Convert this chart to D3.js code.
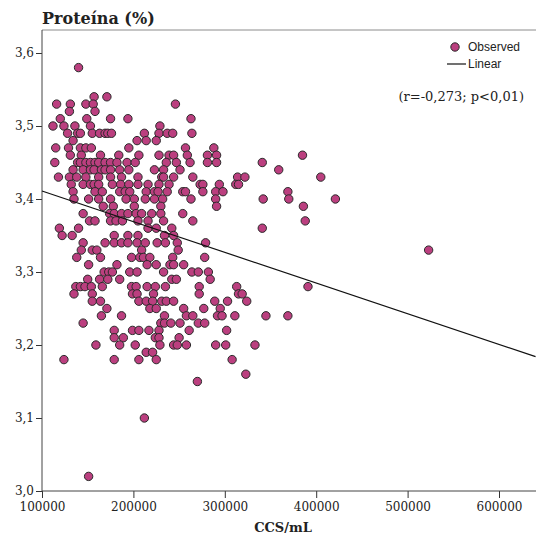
<!DOCTYPE html>
<html>
<head>
<meta charset="utf-8">
<script src="https://cdn.jsdelivr.net/npm/d3@7"></script>
<style>
  body { margin: 0; background: #fff; }
  svg text { fill: #222; }
</style>
</head>
<body>
<svg id="chart" width="536" height="540"></svg>
<script>
// protein level (%) for each row of points, and CCS/mL (in thousands) of the points in that row
const proteinLevels = [
  3.58, 3.54, 3.53, 3.52, 3.51, 3.50, 3.49, 3.48, 3.47, 3.46, 3.45, 3.44, 3.43, 3.42,
  3.41, 3.40, 3.39, 3.38, 3.37, 3.36, 3.35, 3.34, 3.33, 3.32, 3.31, 3.30, 3.29, 3.28,
  3.27, 3.26, 3.25, 3.24, 3.23, 3.22, 3.21, 3.20, 3.19, 3.18, 3.16, 3.15, 3.10, 3.02
];
const ccsThousands = [
  [140],
  [157, 171],
  [116, 131, 148, 156, 246],
  [130, 158],
  [120, 149, 175, 194, 263],
  [112, 124, 136, 153, 229],
  [128, 139, 142, 155, 163, 169, 172, 176, 212, 228, 237, 243, 264],
  [134, 204, 214, 225],
  [115, 129, 142, 148, 154, 195, 257, 288],
  [131, 143, 164, 184, 206, 228, 239, 244, 259, 281, 291, 385],
  [114, 139, 142, 148, 153, 158, 162, 169, 175, 182, 193, 202, 236, 247, 262, 281, 291, 341],
  [134, 145, 153, 157, 165, 169, 175, 185, 195, 223, 233, 251, 359],
  [118, 130, 138, 148, 162, 175, 187, 205, 231, 233, 244, 265, 314, 322, 405],
  [132, 145, 153, 157, 162, 177, 186, 195, 205, 216, 228, 239, 273, 276, 294, 312, 315],
  [134, 158, 166, 185, 191, 196, 214, 223, 227, 237, 254, 257, 276, 290, 298, 369],
  [135, 151, 162, 175, 192, 201, 213, 223, 232, 263, 290, 342, 370, 421],
  [167, 178, 201, 230, 291, 386],
  [145, 174, 179, 187, 194, 203, 209, 220, 230, 254],
  [152, 158, 175, 181, 188, 205, 216, 233, 265, 388],
  [119, 140, 216, 225, 242, 341],
  [122, 133, 179, 194, 205, 234, 244],
  [145, 169, 179, 187, 194, 204, 213, 226, 235, 248, 279],
  [143, 155, 160, 209, 249, 523],
  [138, 164, 198, 207, 211, 218, 243, 278],
  [151, 182, 215, 225, 240, 244, 255],
  [168, 173, 177, 196, 204, 233, 264, 271, 282],
  [150, 163, 172, 185, 242, 247, 284],
  [137, 142, 147, 154, 166, 198, 203, 215, 224, 235, 272, 313, 391],
  [135, 155, 199, 204, 222, 272, 315, 319],
  [155, 164, 206, 214, 221, 231, 236, 244, 289, 303, 324],
  [171, 218, 225, 255, 277, 295],
  [165, 187, 234, 258, 265, 292, 297, 311, 345, 369],
  [145, 230, 234, 241, 251, 271, 278],
  [179, 199, 206, 217, 228, 261, 302],
  [179, 189, 224, 228, 250],
  [159, 185, 202, 229, 244, 248, 258, 290, 301, 333],
  [214, 221],
  [124, 179, 206, 225, 308],
  [323],
  [270],
  [212],
  [151]
];

// linear fit, evaluated at both ends of the x range
const fitLine = [[100000, 3.411], [640000, 3.184]];

const xTicks = [100000, 200000, 300000, 400000, 500000, 600000];
const yTicks = [3.0, 3.1, 3.2, 3.3, 3.4, 3.5, 3.6];

const points = [];
proteinLevels.forEach((p, i) => {
  ccsThousands[i].forEach(c => points.push({ ccs: c * 1000, protein: p }));
});

const svg = d3.select('#chart');

const x = d3.scaleLinear().domain([100000, 600000]).range([42, 499]);
const y = d3.scaleLinear().domain([3.0, 3.6]).range([491, 53]);

const plotTop = 30, plotLeft = 42, plotBottom = 491, plotRight = 536;

// frame top border
svg.append('line')
  .attr('x1', plotLeft).attr('x2', plotRight)
  .attr('y1', plotTop).attr('y2', plotTop)
  .attr('stroke', '#8c8c8c')
  .attr('stroke-width', 1);

const comma = v => d3.format('.1f')(v).replace('.', ',');

const yAxis = svg.append('g')
  .attr('transform', `translate(${plotLeft},0)`)
  .call(d3.axisLeft(y).tickValues(yTicks).tickFormat(comma).tickSize(6).tickPadding(2));

const xAxis = svg.append('g')
  .attr('transform', `translate(0,${plotBottom})`)
  .call(d3.axisBottom(x).tickValues(xTicks).tickFormat(d3.format('d')).tickSize(7).tickPadding(4));

[yAxis, xAxis].forEach(g => {
  g.select('.domain').remove();
  g.selectAll('.tick line').attr('stroke', '#333');
  g.selectAll('text')
    .attr('font-family', 'DejaVu Serif')
    .attr('font-size', 12)
    .attr('fill', '#222');
});

// axis lines
svg.append('line')
  .attr('x1', plotLeft).attr('x2', plotLeft)
  .attr('y1', plotTop).attr('y2', plotBottom)
  .attr('stroke', '#444');
svg.append('line')
  .attr('x1', plotLeft).attr('x2', plotRight)
  .attr('y1', plotBottom).attr('y2', plotBottom)
  .attr('stroke', '#444');

// points
svg.append('g')
  .selectAll('circle')
  .data(points)
  .join('circle')
  .attr('cx', d => x(d.ccs))
  .attr('cy', d => y(d.protein))
  .attr('r', 4.2)
  .attr('fill', '#bb3f7f')
  .attr('stroke', '#2a2a2a')
  .attr('stroke-width', 1);

// regression line
svg.append('path')
  .datum(fitLine)
  .attr('d', d3.line().x(d => x(d[0])).y(d => y(d[1])))
  .attr('stroke', '#111')
  .attr('stroke-width', 1.2)
  .attr('fill', 'none');

// titles
svg.append('text')
  .attr('x', 42).attr('y', 24)
  .attr('font-family', 'DejaVu Serif')
  .attr('font-weight', 'bold')
  .attr('font-size', 16)
  .text('Proteína (%)');

svg.append('text')
  .attr('x', 283).attr('y', 532)
  .attr('text-anchor', 'middle')
  .attr('font-family', 'DejaVu Serif')
  .attr('font-weight', 'bold')
  .attr('font-size', 13)
  .text('CCS/mL');

// legend
const legend = svg.append('g').attr('font-family', 'Liberation Sans').attr('font-size', 12);
legend.append('circle')
  .attr('cx', 455).attr('cy', 47).attr('r', 4.2)
  .attr('fill', '#bb3f7f').attr('stroke', '#2a2a2a');
legend.append('text').attr('x', 468).attr('y', 51).text('Observed');
legend.append('line')
  .attr('x1', 447).attr('x2', 466).attr('y1', 64).attr('y2', 64)
  .attr('stroke', '#111').attr('stroke-width', 1.2);
legend.append('text').attr('x', 468).attr('y', 68).text('Linear');

svg.append('text')
  .attr('x', 524).attr('y', 101)
  .attr('text-anchor', 'end')
  .attr('font-family', 'DejaVu Serif')
  .attr('font-size', 13)
  .text('(r=-0,273; p<0,01)');
</script>
</body>
</html>
